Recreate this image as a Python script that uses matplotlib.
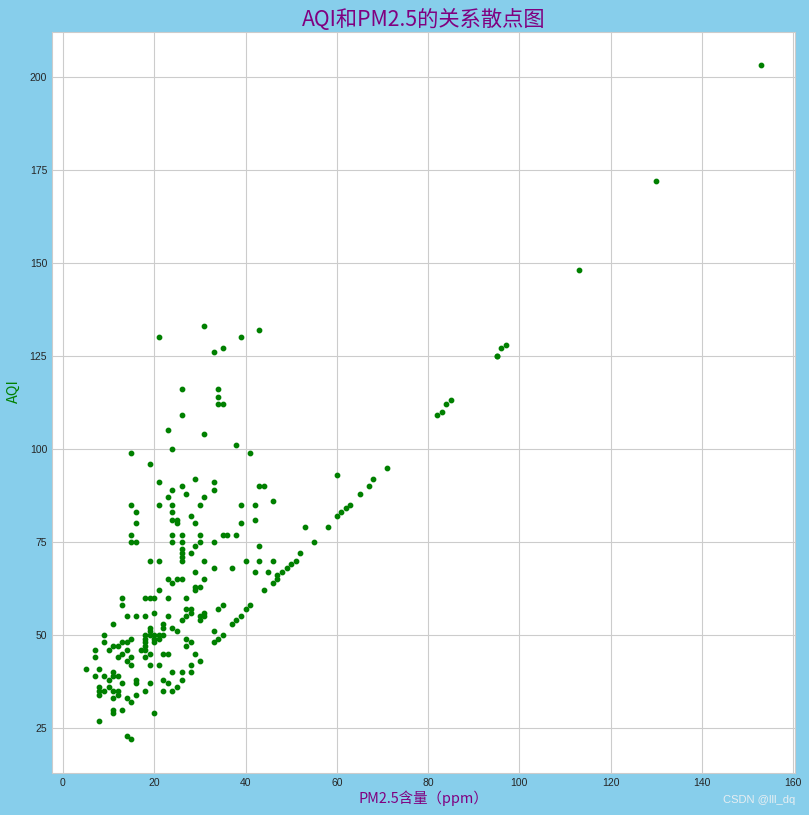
import matplotlib
matplotlib.use("Agg")
import matplotlib.pyplot as plt

plt.rcParams["font.family"] = ["Noto Sans CJK SC", "DejaVu Sans"]
plt.rcParams["axes.unicode_minus"] = False

# PM2.5 含量 与 AQI
pm25 = [
    13, 14, 16, 18, 20, 23, 11, 19, 19, 22, 22, 24, 25, 26, 27, 27, 28, 28,
    9, 18, 19, 20, 21, 22, 18, 20, 21, 18, 20, 15, 9, 11, 12, 13, 14, 18, 27, 27, 28,
    7, 10, 14, 17, 18, 13, 15, 19, 22, 23, 7, 12, 18, 14, 15, 5, 8, 19, 21, 28, 28,
    7, 9, 11, 11, 12, 10, 8, 8, 8, 9, 10, 11, 12, 12, 13, 16, 16, 19, 22, 23, 24, 26, 26,
    25, 24, 22, 18, 16, 11, 14, 15, 11, 11, 13, 20, 8, 14, 15,
    30, 30, 31, 31, 34, 35, 37, 38, 39, 40, 41, 33, 33, 34, 35, 29, 30,
    19, 21, 26, 24, 27, 23, 15, 21, 24, 16, 24, 24, 25, 25, 28, 16, 15, 15, 16, 24, 24,
    26, 26, 26, 26, 26, 26, 28, 19, 21, 23, 24, 25, 26, 21, 13, 18, 19, 20, 23, 27,
    29, 33, 33, 31, 30, 29, 39, 42, 43, 44, 46, 39, 42, 30, 35, 36, 38, 29, 30, 33, 43, 53,
    31, 33, 37, 40, 43, 46, 29, 42, 45, 31, 29, 29, 30, 44, 46, 47, 47, 48, 49, 50, 51, 52,
    21, 31, 39, 43, 33, 35, 26, 34, 34, 34, 35, 26, 23, 31, 38, 24, 15, 41,
    60, 68, 71, 67, 65, 63, 62, 61, 60, 58, 55,
    82, 83, 84, 85, 95, 95, 96, 97, 113, 130, 153,
]
aqi = [
    58, 55, 55, 55, 56, 55, 53, 52, 51, 53, 52, 52, 51, 54, 55, 57, 57, 56,
    50, 50, 50, 50, 50, 50, 49, 49, 49, 48, 48, 49, 48, 47, 47, 48, 48, 47, 49, 47, 48,
    46, 46, 46, 46, 46, 45, 44, 45, 45, 45, 44, 44, 44, 43, 42, 41, 41, 42, 42, 42, 40,
    39, 39, 40, 39, 39, 38, 36, 35, 34, 35, 36, 35, 35, 34, 37, 38, 37, 37, 38, 37, 40, 40, 38,
    36, 35, 35, 35, 34, 33, 33, 32, 30, 29, 30, 29, 27, 23, 22,
    55, 54, 56, 55, 57, 58, 53, 54, 55, 57, 58, 51, 48, 49, 50, 45, 43,
    96, 91, 90, 89, 88, 87, 85, 85, 85, 83, 83, 81, 81, 80, 82, 80, 77, 75, 75, 77, 75,
    77, 75, 73, 72, 71, 70, 72, 70, 70, 65, 64, 65, 65, 62, 60, 60, 60, 60, 60, 60,
    92, 91, 89, 87, 85, 80, 85, 85, 90, 90, 86, 80, 81, 77, 77, 77, 77, 74, 75, 75, 74, 79,
    70, 68, 68, 70, 70, 70, 67, 67, 67, 65, 63, 62, 63, 62, 64, 65, 66, 67, 68, 69, 70, 72,
    130, 133, 130, 132, 126, 127, 116, 116, 114, 112, 112, 109, 105, 104, 101, 100, 99, 99,
    93, 92, 95, 90, 88, 85, 84, 83, 82, 79, 75,
    109, 110, 112, 113, 125, 125, 127, 128, 148, 172, 203,
]

fig = plt.figure(figsize=(8.09, 8.15), dpi=100, facecolor="skyblue")
ax = fig.add_axes([52 / 809, 1 - 773 / 815, (795 - 52) / 809, (773 - 31.7) / 815])
ax.set_facecolor("white")

ax.scatter(pm25, aqi, color="green", s=10, zorder=3)

ax.grid(True, color="#cccccc", linewidth=0.8)
ax.set_axisbelow(True)
for sp in ax.spines.values():
    sp.set_color("#cccccc")
ax.tick_params(length=0, labelsize=7.5, colors="#262626", pad=3.5,
               labelfontfamily="Liberation Sans")

ax.set_title("AQI和PM2.5的关系散点图", color="purple", fontsize=15.3, pad=4)
ax.set_xlabel("PM2.5含量（ppm）", color="purple", fontsize=10.4, labelpad=2)
ax.set_ylabel("AQI", color="green", fontsize=10.4)
ax.yaxis.set_label_coords(-0.042, 0.515)

fig.text(0.983, 0.012, "CSDN @lll_dq", color="#e8eef2", fontsize=8,
         ha="right", va="bottom", family="Liberation Sans")

fig.savefig("out.png", dpi=100, facecolor=fig.get_facecolor())
